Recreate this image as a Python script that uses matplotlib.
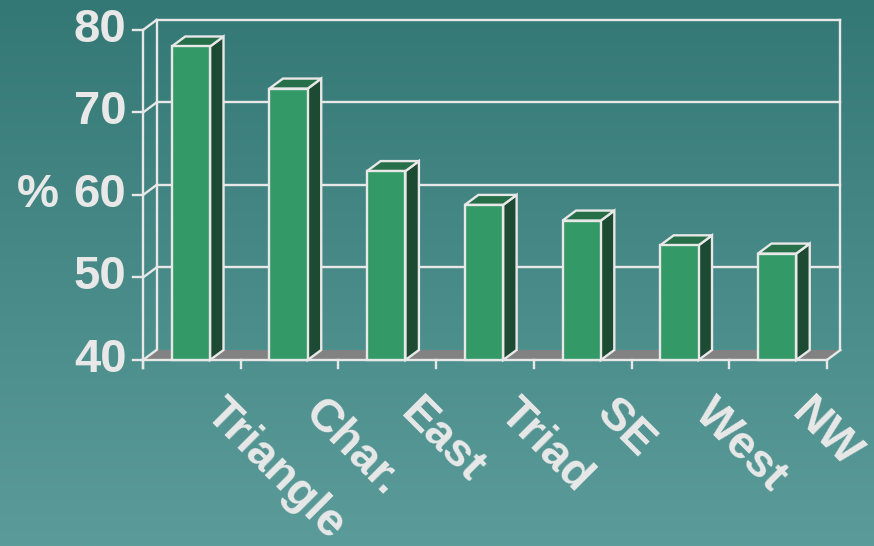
import numpy as np
import matplotlib.pyplot as plt
from matplotlib.patches import Polygon
from matplotlib.colors import LinearSegmentedColormap

categories = ["Triangle", "Char.", "East", "Triad", "SE", "West", "NW"]
values = [78.0, 72.9, 62.9, 58.8, 56.9, 53.9, 52.9]
y_ticks = [40, 50, 60, 70, 80]

FRONT = "#339966"
SIDE = "#1d4a32"
TOP = "#266f49"
FLOOR = "#828282"
LINE = "#e8e8e8"
TEXT = "#e8e8e8"

# pixel layout of the original: slot width 97.7 px, 8.25 px per unit
SLOT_PX = 97.7
UNIT_PX = 8.25
X0_PX = 143
Y40_PX = 360
W, H = 874, 546

DX = 13.5 / SLOT_PX
DY = 10 / UNIT_PX
BAR_L, BAR_R = 0.294, 0.686

fig = plt.figure(figsize=(W / 100, H / 100), dpi=100)
ax = fig.add_axes([0, 0, 1, 1])
ax.set_xlim(-X0_PX / SLOT_PX, (W - X0_PX) / SLOT_PX)
ax.set_ylim(40 - (H - Y40_PX) / UNIT_PX, 40 + Y40_PX / UNIT_PX)
ax.axis("off")

# background gradient
cmap = LinearSegmentedColormap.from_list("bg", ["#5b9c9a", "#347876"])
grad = np.linspace(0, 1, 256).reshape(-1, 1)
xl, yl = ax.get_xlim(), ax.get_ylim()
ax.imshow(grad, cmap=cmap, aspect="auto", origin="lower",
          extent=[xl[0], xl[1], yl[0], yl[1]], zorder=0)

n = len(categories)
lw = 1.7

# floor
floor = Polygon([(0, 40), (n, 40), (n + DX, 40 + DY), (DX, 40 + DY)],
                closed=True, facecolor=FLOOR, edgecolor="none", zorder=2)
ax.add_patch(floor)
ax.plot([0, n], [40, 40], color=LINE, lw=lw, zorder=2.5)
ax.plot([n, n + DX], [40, 40 + DY], color=LINE, lw=lw, zorder=2.5)

# back wall grid and left wall diagonals
for t in y_ticks:
    if t > 40:
        ax.plot([DX, n + DX], [t + DY, t + DY], color=LINE, lw=lw, zorder=1)
    ax.plot([0, DX], [t, t + DY], color=LINE, lw=lw, zorder=2.5)
    ax.plot([-0.1, 0], [t, t], color=LINE, lw=lw, zorder=2.5)
    ax.text(-0.17, t, str(t), ha="right", va="center", color=TEXT,
            fontsize=34, fontweight="bold", family="Liberation Sans")

ax.plot([DX, DX], [40 + DY, 80 + DY], color=LINE, lw=lw, zorder=1)
ax.plot([n + DX, n + DX], [40 + DY, 80 + DY], color=LINE, lw=lw, zorder=1)
ax.plot([0, 0], [39, 80], color=LINE, lw=lw, zorder=2.5)
for i in range(n + 1):
    ax.plot([i, i], [40, 39], color=LINE, lw=lw, zorder=2.5)

ax.text(-1.08, 60, "%", ha="center", va="center", color=TEXT,
        fontsize=34, fontweight="bold", family="Liberation Sans")

# bars
for i, v in enumerate(values):
    x0, x1 = i + BAR_L, i + BAR_R
    front = Polygon([(x0, 40), (x1, 40), (x1, v), (x0, v)], closed=True,
                    facecolor=FRONT, edgecolor=LINE, lw=lw, zorder=3)
    side = Polygon([(x1, 40), (x1 + DX, 40 + DY), (x1 + DX, v + DY), (x1, v)],
                   closed=True, facecolor=SIDE, edgecolor=LINE, lw=lw, zorder=3)
    top = Polygon([(x0, v), (x0 + DX, v + DY), (x1 + DX, v + DY), (x1, v)],
                  closed=True, facecolor=TOP, edgecolor=LINE, lw=lw, zorder=3)
    for p in (side, top, front):
        ax.add_patch(p)
    ax.text(i + 0.5 + 0.37, 36.2, categories[i], rotation=-45,
            rotation_mode="anchor", ha="left", va="top", color=TEXT,
            fontsize=33.5, fontweight="bold", family="Liberation Sans",
            clip_on=False)

fig.savefig("out.png", dpi=100)
